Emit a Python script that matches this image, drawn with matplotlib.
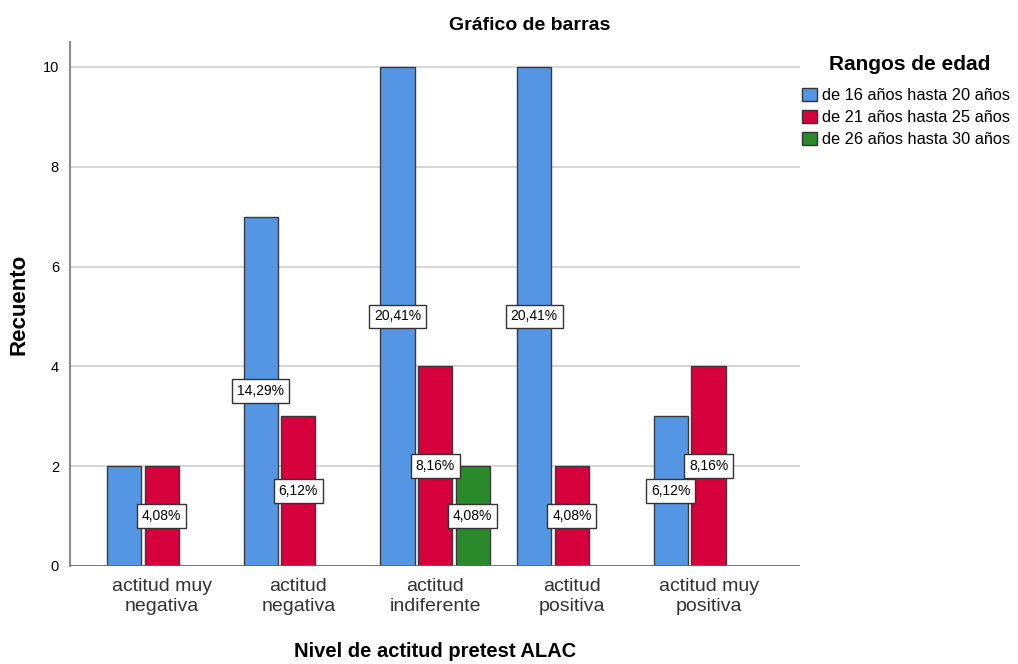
import matplotlib
matplotlib.use("Agg")
import matplotlib.pyplot as plt
import numpy as np

plt.rcParams['font.family'] = ['Liberation Sans', 'DejaVu Sans']

categories = ['actitud muy\nnegativa', 'actitud\nnegativa', 'actitud\nindiferente',
              'actitud\npositiva', 'actitud muy\npositiva']
series = ['de 16 años hasta 20 años', 'de 21 años hasta 25 años', 'de 26 años hasta 30 años']
counts = [
    [2, 7, 10, 10, 3],
    [2, 3, 4, 2, 4],
    [0, 0, 2, 0, 0],
]
# labels as shown on the chart (None = not shown)
labels = [
    [None, '14,29%', '20,41%', '20,41%', '6,12%'],
    ['4,08%', '6,12%', '8,16%', '4,08%', '8,16%'],
    [None, None, '4,08%', None, None],
]
colors = ['#5596e4', '#d6003c', '#2a8a2b']

fig = plt.figure(figsize=(10.18, 6.64), dpi=100)
ax = fig.add_axes([0.0688, 0.1476, 0.7172, 0.7891])

x = np.arange(len(categories))
slot = 0.275
width = 0.25
for i, (vals, col) in enumerate(zip(counts, colors)):
    pos = x + (i - 1) * slot
    for xp, v, lab in zip(pos, vals, labels[i]):
        if v == 0:
            continue
        ax.bar(xp, v, width=width, color=col, edgecolor='#3a3a3a', linewidth=1.0, zorder=3)
        if lab:
            ax.text(xp, v / 2, lab, ha='center', va='center', fontsize=10, zorder=5,
                    bbox=dict(boxstyle='square,pad=0.35', fc='white', ec='#333333', lw=1.0))

ax.set_xlim(-0.67, 4.67)
ax.set_ylim(0, 10.5)
ax.set_yticks([0, 2, 4, 6, 8, 10])
ax.set_xticks(x)
ax.set_xticklabels(categories, fontsize=14, color='#333333', linespacing=1.2)
ax.tick_params(axis='y', labelsize=10.5, length=0, pad=8)
ax.tick_params(axis='x', length=0, pad=9)
ax.yaxis.grid(True, color='#cfcfcf', linewidth=1.2, zorder=0)
for s in ['top', 'right', 'bottom']:
    ax.spines[s].set_visible(False)
ax.spines['left'].set_color('#8c8c8c')
ax.spines['left'].set_linewidth(1.5)
ax.axhline(0, color='#666666', linewidth=1.2, zorder=4)

ax.set_ylabel('Recuento', fontsize=16, fontweight='bold')
ax.yaxis.set_label_coords(-0.055, 0.5)
ax.set_xlabel('Nivel de actitud pretest ALAC', fontsize=14.5, fontweight='bold')
ax.xaxis.set_label_coords(0.5, -0.145)
fig.text(0.52, 0.961, 'Gráfico de barras', ha='center', va='center',
         fontsize=14, fontweight='bold')

fig.text(0.894, 0.903, 'Rangos de edad', ha='center', va='center',
         fontsize=15, fontweight='bold')
handles = [plt.Rectangle((0, 0), 1, 1, fc=c, ec='#333333', lw=1.0) for c in colors]
leg = fig.legend(handles, series, loc='upper left', bbox_to_anchor=(0.788, 0.868),
                 frameon=False, fontsize=11.8,
                 handlelength=0.9, handleheight=0.9, handletextpad=0.3,
                 labelspacing=0.4, borderaxespad=0, borderpad=0)

fig.savefig('out.png', dpi=100)
